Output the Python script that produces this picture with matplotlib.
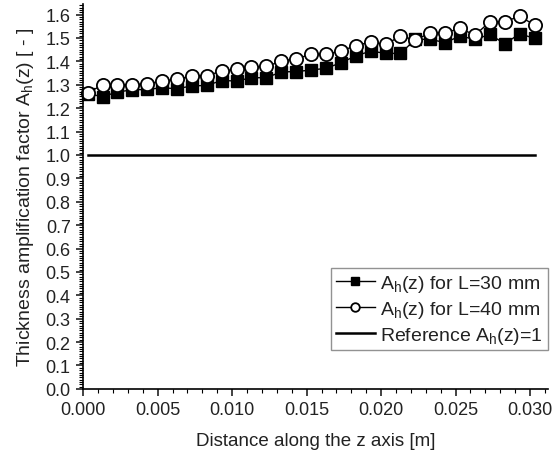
import numpy as np
import matplotlib
matplotlib.use('Agg')
import matplotlib.pyplot as plt
from matplotlib.ticker import MultipleLocator

plt.rcParams['font.family'] = ['Liberation Sans', 'DejaVu Sans']
plt.rcParams['mathtext.fontset'] = 'custom'
plt.rcParams['mathtext.rm'] = 'Liberation Sans'

# Sample positions along z [m]
z = np.array([0.0003 + 0.001 * i for i in range(31)])

# A_h(z) for L=30 mm (filled squares)
ah_30 = [1.262, 1.249, 1.269, 1.278, 1.280, 1.287, 1.283, 1.295, 1.297, 1.318,
         1.316, 1.330, 1.330, 1.355, 1.356, 1.363, 1.370, 1.394, 1.423, 1.444,
         1.434, 1.434, 1.494, 1.494, 1.480, 1.508, 1.494, 1.515, 1.475, 1.518,
         1.498]

# A_h(z) for L=40 mm (open circles)
ah_40 = [1.265, 1.299, 1.299, 1.300, 1.304, 1.316, 1.323, 1.337, 1.339, 1.358,
         1.366, 1.376, 1.378, 1.401, 1.411, 1.430, 1.430, 1.444, 1.467, 1.483,
         1.472, 1.508, 1.491, 1.522, 1.522, 1.541, 1.512, 1.569, 1.569, 1.593,
         1.555]

ref_value = 1.0

xticks = [0.000, 0.005, 0.010, 0.015, 0.020, 0.025, 0.030]
yticks = [0.0, 0.1, 0.2, 0.3, 0.4, 0.5, 0.6, 0.7, 0.8, 0.9, 1.0,
          1.1, 1.2, 1.3, 1.4, 1.5, 1.6]

fig = plt.figure(figsize=(5.58, 4.56), dpi=100)
ax = fig.add_axes([0.149, 0.145, 0.833, 0.844])

ax.plot(z, ah_30, color='black', linewidth=1.0, marker='s', markersize=8.5,
        markerfacecolor='black', markeredgecolor='black', clip_on=False,
        label=r'A$_\mathregular{h}$(z) for L=30 mm')
ax.plot(z, ah_40, color='black', linewidth=1.0, marker='o', markersize=9.5,
        markerfacecolor='white', markeredgecolor='black', markeredgewidth=1.3,
        clip_on=False, label=r'A$_\mathregular{h}$(z) for L=40 mm')
ax.plot([z[0], z[-1]], [ref_value, ref_value], color='black', linewidth=1.8,
        label=r'Reference A$_\mathregular{h}$(z)=1')

ax.set_xlim(0, 0.0312)
ax.set_ylim(0, 1.645)

ax.set_xticks(xticks)
ax.set_xticklabels([f'{t:.3f}' for t in xticks])
ax.set_yticks(yticks)
ax.set_yticklabels([f'{t:.1f}' for t in yticks])
ax.xaxis.set_minor_locator(MultipleLocator(0.001))
ax.yaxis.set_minor_locator(MultipleLocator(0.01))

ax.spines['top'].set_visible(False)
ax.spines['right'].set_visible(False)
ax.spines['left'].set_linewidth(1.2)
ax.spines['bottom'].set_linewidth(1.2)
ax.tick_params(which='major', direction='out', length=5, width=1.2,
               labelsize=13, colors='#222222', pad=4)
ax.tick_params(which='minor', direction='out', length=3, width=0.8)

ax.set_xlabel('Distance along the z axis [m]', fontsize=13.5, labelpad=10,
              color='#222222')
ax.set_ylabel(r'Thickness amplification factor A$_\mathregular{h}$(z) [ - ]',
              fontsize=14, labelpad=7, color='#222222')

leg = ax.legend(loc='lower right', bbox_to_anchor=(1.0, 0.10), fontsize=14,
                frameon=True, fancybox=False, edgecolor='#777777',
                handlelength=2.0, handletextpad=0.3, borderpad=0.25,
                labelspacing=0.25, borderaxespad=0.0, markerscale=0.65)
leg.get_frame().set_linewidth(1.0)
for txt in leg.get_texts():
    txt.set_color('#222222')

fig.savefig('out.png', dpi=100)
